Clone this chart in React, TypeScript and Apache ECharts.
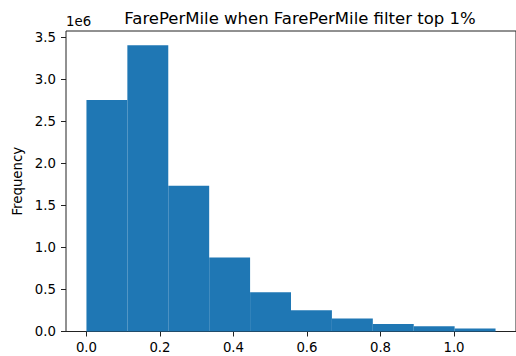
import React, { useEffect, useRef } from "react";
import * as echarts from "echarts";

const binEdges = [0, 0.1113, 0.2226, 0.3339, 0.4452, 0.5565, 0.6678, 0.7791, 0.8904, 1.0017, 1.113];
const counts = [2755000, 3405000, 1735000, 880000, 468000, 252000, 155000, 90000, 62000, 35000];
const xTickValues = [0, 0.2, 0.4, 0.6, 0.8, 1.0];
const yTickValues = [0, 500000, 1000000, 1500000, 2000000, 2500000, 3000000, 3500000];
const titleText = "FarePerMile when FarePerMile filter top 1%";
const yLabel = "Frequency";
const offsetText = "1e6";

const FONT = "DejaVu Sans";

export default function App() {
  const ref = useRef<HTMLDivElement>(null);
  useEffect(() => {
    if (!ref.current) return;
    const chart = echarts.init(ref.current, undefined, { renderer: "svg" });
    const data = counts.map((c, i) => [binEdges[i], binEdges[i + 1], c]);
    chart.setOption({
      animation: false,
      backgroundColor: "#ffffff",
      title: {
        text: titleText,
        left: 295,
        top: 5,
        textAlign: "center",
        textStyle: { fontFamily: FONT, fontSize: 16.5, fontWeight: "normal", color: "#000" },
      },
      grid: {
        left: 66,
        top: 31,
        right: -10.7,
        bottom: 24.5,
        show: true,
        borderColor: "#222",
        borderWidth: 1,
        backgroundColor: "transparent",
      },
      xAxis: {
        type: "value",
        min: -0.05565,
        max: 1.16865,
        axisLine: { show: false, onZero: false },
        splitLine: { show: false },
        axisTick: { show: true, length: 5, lineStyle: { color: "#222" }, customValues: xTickValues },
        axisLabel: {
          customValues: xTickValues,
          margin: 9,
          fontFamily: FONT,
          fontSize: 13.3,
          color: "#000",
          formatter: (v: number) => v.toFixed(1),
        },
      },
      yAxis: {
        type: "value",
        min: 0,
        max: 3575250,
        name: yLabel,
        nameLocation: "middle",
        nameGap: 36,
        nameTextStyle: { fontFamily: FONT, fontSize: 13.3, color: "#000" },
        axisLine: { show: false, onZero: false },
        splitLine: { show: false },
        axisTick: { show: true, length: 5, lineStyle: { color: "#222" }, customValues: yTickValues },
        axisLabel: {
          customValues: yTickValues,
          margin: 10,
          fontFamily: FONT,
          fontSize: 13.3,
          color: "#000",
          formatter: (v: number) => (v / 1e6).toFixed(1),
        },
      },
      graphic: [
        {
          type: "text",
          left: 66,
          top: 15,
          style: { text: offsetText, font: `13.3px '${FONT}'`, fill: "#000" },
        },
      ],
      series: [
        {
          type: "custom",
          data,
          encode: { x: [0, 1], y: 2 },
          renderItem: (params: any, api: any) => {
            const x0 = api.value(0);
            const x1 = api.value(1);
            const y = api.value(2);
            const p0 = api.coord([x0, y]);
            const p1 = api.coord([x1, 0]);
            return {
              type: "rect",
              shape: { x: p0[0], y: p0[1], width: p1[0] - p0[0], height: p1[1] - p0[1] },
              style: { fill: "#1f77b4" },
            };
          },
        },
      ],
    });
    return () => chart.dispose();
  }, []);
  return (
    <div
      ref={ref}
      style={{ position: "fixed", left: 0, top: 0, width: 516, height: 356 }}
    />
  );
}
